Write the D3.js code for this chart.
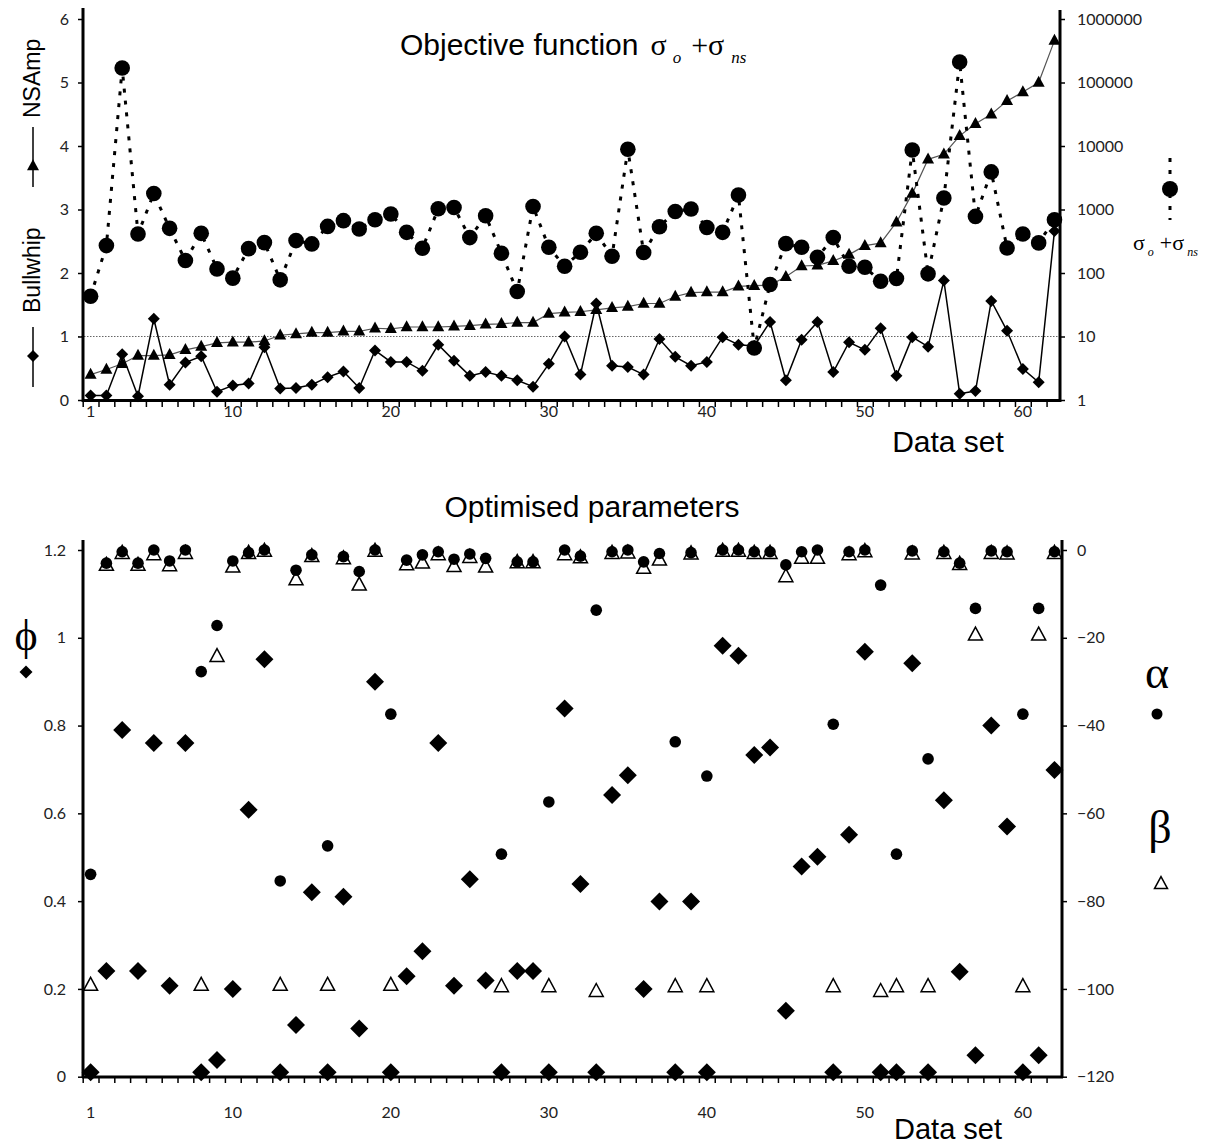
<!DOCTYPE html>
<html><head><meta charset="utf-8">
<script src="https://cdn.jsdelivr.net/npm/d3@7"></script>
<style>body{margin:0;background:#fff} svg{display:block}</style>
</head><body><svg id="c" width="1215" height="1146"></svg>
<script>
// ---------- data ----------
const dataSets = [1,2,3,4,5,6,7,8,9,10,11,12,13,14,15,16,17,18,19,20,21,22,23,24,25,26,27,28,29,30,31,32,33,34,35,36,37,38,39,40,41,42,43,44,45,46,47,48,49,50,51,52,53,54,55,56,57,58,59,60,61,62];
const bullwhip = [0.07,0.07,0.72,0.06,1.28,0.24,0.59,0.69,0.13,0.23,0.26,0.83,0.18,0.19,0.24,0.36,0.45,0.19,0.78,0.60,0.60,0.46,0.87,0.62,0.38,0.44,0.38,0.31,0.21,0.57,1.00,0.40,1.52,0.54,0.52,0.40,0.96,0.68,0.54,0.60,0.99,0.87,0.85,1.23,0.31,0.95,1.23,0.44,0.91,0.79,1.13,0.38,0.99,0.84,1.88,0.10,0.14,1.56,1.09,0.49,0.28,2.66];
const nsAmp = [0.40,0.48,0.57,0.70,0.70,0.71,0.79,0.84,0.90,0.91,0.91,0.93,1.02,1.04,1.06,1.06,1.08,1.08,1.13,1.12,1.15,1.15,1.15,1.16,1.17,1.19,1.20,1.22,1.22,1.36,1.38,1.39,1.42,1.45,1.47,1.52,1.52,1.63,1.69,1.70,1.70,1.79,1.80,1.81,1.94,2.11,2.12,2.19,2.29,2.43,2.47,2.80,3.25,3.79,3.87,4.16,4.35,4.50,4.71,4.85,5.00,5.66];
const objective = [43,270,169000,412,1786,505,157,421,116,83,242,301,78,324,287,542,667,493,690,849,437,245,1028,1076,361,798,205,51,1117,254,128,212,421,184,8872,210,536,931,1016,522,437,1687,6.6,66,290,254,177,361,128,123,74,82,8650,97,1514,210000,778,3908,248,412,298,690];
const phi = [0.01,0.241,0.790,0.241,0.760,0.207,0.760,0.01,0.038,0.200,0.608,0.951,0.01,0.118,0.420,0.01,0.410,0.110,0.900,0.01,0.229,0.286,0.760,0.207,0.450,0.219,0.01,0.241,0.241,0.01,0.839,0.439,0.01,0.642,0.687,0.200,0.399,0.01,0.399,0.01,0.982,0.959,0.733,0.750,0.150,0.479,0.501,0.01,0.551,0.968,0.01,0.01,0.942,0.01,0.630,0.239,0.049,0.800,0.570,0.01,0.049,0.699];
const alpha = [-73.9,-3.0,-0.4,-3.0,0,-2.5,0,-27.7,-17.2,-2.5,-0.6,0,-75.4,-4.6,-1.1,-67.4,-1.5,-4.9,0,-37.4,-2.3,-1.1,-0.4,-2.1,-0.9,-1.9,-69.3,-2.7,-2.7,-57.4,0,-1.4,-13.7,-0.4,0,-2.7,-0.8,-43.7,-0.6,-51.5,0,0,-0.4,-0.4,-3.4,-0.4,0,-39.7,-0.4,0,-8.0,-69.3,-0.2,-47.6,-0.4,-3.0,-13.3,-0.2,-0.4,-37.4,-13.3,-0.4];
const beta = [-99.2,-3.5,-0.8,-3.5,-1.1,-3.6,-0.8,-99.2,-24.3,-3.9,-0.8,-0.3,-99.2,-6.8,-1.5,-99.2,-2.0,-8.0,-0.3,-99.2,-3.4,-3.0,-1.1,-3.8,-1.7,-3.9,-99.5,-2.9,-2.9,-99.5,-1.1,-1.8,-100.6,-0.8,-0.7,-4.2,-2.3,-99.5,-0.9,-99.5,-0.3,-0.3,-0.8,-0.8,-6.1,-1.9,-1.9,-99.5,-1.1,-0.4,-100.6,-99.5,-0.9,-99.5,-0.8,-3.3,-19.4,-0.8,-0.9,-99.5,-19.4,-0.8];
const xTickLabels = [1,10,20,30,40,50,60];
const topLeftTicks = [0,1,2,3,4,5,6];
const topRightTicks = [1,10,100,1000,10000,100000,1000000];
const botLeftTicks = [0,0.2,0.4,0.6,0.8,1,1.2];
const botRightTicks = [0,-20,-40,-60,-80,-100,-120];

// ---------- scales ----------
const svg = d3.select('#c');
const x = d3.scaleLinear().domain([0.5, 62.35]).range([82.7, 1060]);
const yTL = d3.scaleLinear().domain([0,6]).range([400, 19]);
const yTR = d3.scaleLog().domain([1,1e6]).range([400, 19]);
const yBL = d3.scaleLinear().domain([0,1.2]).range([1076.7, 550]);
const yBR = d3.scaleLinear().domain([-120,0]).range([1076.7, 550]);

const SANS = "'Liberation Sans', Arial, sans-serif";
const SERIF = "'Liberation Serif', 'Times New Roman', serif";
const TICKF = "Lato, 'Open Sans', sans-serif";

const diamond = s => `M0,${-s}L${s},0L0,${s}L${-s},0Z`;
const tri = (w,h) => `M0,${-h*0.62}L${w/2},${h*0.38}L${-w/2},${h*0.38}Z`;

function styleAxis(g){
  g.select('.domain').remove();
  g.selectAll('line').attr('stroke','#000').attr('stroke-width',1.5);
  g.selectAll('text').attr('font-family',TICKF).attr('font-size',16).attr('fill','#222');
}
const boundaries = d3.range(0.5, 62.5, 1);

// ================= TOP CHART =================
const topG = svg.append('g');
topG.append('line').attr('x1',78).attr('x2',x(62.35)).attr('y1',yTL(1)).attr('y2',yTL(1))
  .attr('stroke','#666').attr('stroke-width',1).attr('stroke-dasharray','1.5,1.5');

topG.append('g').attr('transform','translate(83,0)')
  .call(d3.axisLeft(yTL).tickValues(topLeftTicks).tickSize(5).tickPadding(9).tickFormat(d3.format('d')))
  .call(styleAxis);
topG.append('g').attr('transform','translate(1060,0)')
  .call(d3.axisRight(yTR).tickValues(topRightTicks).tickSize(5).tickPadding(12).tickFormat(d3.format('d')))
  .call(styleAxis);
topG.append('g').attr('transform','translate(0,401)')
  .call(d3.axisBottom(x).tickValues(boundaries).tickSize(6).tickFormat(''))
  .call(styleAxis);
topG.selectAll('.xl').data(xTickLabels).join('text')
  .attr('x',d=>x(d)).attr('y',417).attr('text-anchor','middle')
  .attr('font-family',TICKF).attr('font-size',16).attr('fill','#222').text(d=>d);

topG.append('line').attr('x1',83).attr('x2',83).attr('y1',8).attr('y2',402).attr('stroke','#000').attr('stroke-width',3);
topG.append('line').attr('x1',1060).attr('x2',1060).attr('y1',10).attr('y2',402).attr('stroke','#000').attr('stroke-width',3);
topG.append('line').attr('x1',82).attr('x2',1061).attr('y1',400.5).attr('y2',400.5).attr('stroke','#000').attr('stroke-width',3);

topG.append('path').datum(nsAmp)
  .attr('d', d3.line().x((d,i)=>x(dataSets[i])).y(d=>yTL(d)))
  .attr('fill','none').attr('stroke','#555').attr('stroke-width',1.2);
topG.selectAll('.ns').data(nsAmp).join('path')
  .attr('transform',(d,i)=>`translate(${x(dataSets[i])},${yTL(d)})`)
  .attr('d',tri(12,11)).attr('fill','#000');

topG.append('path').datum(bullwhip)
  .attr('d', d3.line().x((d,i)=>x(dataSets[i])).y(d=>yTL(d)))
  .attr('fill','none').attr('stroke','#000').attr('stroke-width',1.5);
topG.selectAll('.bw').data(bullwhip).join('path')
  .attr('transform',(d,i)=>`translate(${x(dataSets[i])},${yTL(d)})`)
  .attr('d',diamond(6)).attr('fill','#000');

topG.append('path').datum(objective)
  .attr('d', d3.line().x((d,i)=>x(dataSets[i])).y(d=>yTR(d)))
  .attr('fill','none').attr('stroke','#000').attr('stroke-width',3).attr('stroke-dasharray','4,8');
topG.selectAll('.ob').data(objective).join('circle')
  .attr('cx',(d,i)=>x(dataSets[i])).attr('cy',d=>yTR(d)).attr('r',7.8).attr('fill','#000');

const t1 = topG.append('text').attr('x',400).attr('y',55).attr('fill','#000');
t1.append('tspan').attr('font-family',SANS).attr('font-size',30).text('Objective function');
t1.append('tspan').attr('font-family',SERIF).attr('font-size',30).attr('dx',12).text('σ');
t1.append('tspan').attr('font-family',SERIF).attr('font-style','italic').attr('font-size',17).attr('dx',6).attr('dy',8).text('o');
t1.append('tspan').attr('font-family',SERIF).attr('font-size',30).attr('dx',10).attr('dy',-8).text('+σ');
t1.append('tspan').attr('font-family',SERIF).attr('font-style','italic').attr('font-size',17).attr('dx',7).attr('dy',8).text('ns');

topG.append('text').attr('x',948).attr('y',452).attr('text-anchor','middle')
  .attr('font-family',SANS).attr('font-size',30).text('Data set');

topG.append('line').attr('x1',33).attr('x2',33).attr('y1',327).attr('y2',387).attr('stroke','#000').attr('stroke-width',1.5);
topG.append('path').attr('transform','translate(33,356)').attr('d',diamond(6)).attr('fill','#000');
topG.append('text').attr('transform','translate(40,313) rotate(-90)').attr('font-family',SANS).attr('font-size',23).text('Bullwhip');
topG.append('line').attr('x1',33).attr('x2',33).attr('y1',127).attr('y2',187).attr('stroke','#000').attr('stroke-width',1.5);
topG.append('path').attr('transform','translate(33,166)').attr('d',tri(12,11)).attr('fill','#000');
topG.append('text').attr('transform','translate(40,118) rotate(-90)').attr('font-family',SANS).attr('font-size',23).text('NSAmp');

topG.append('line').attr('x1',1170).attr('x2',1170).attr('y1',158).attr('y2',220).attr('stroke','#000').attr('stroke-width',3).attr('stroke-dasharray','4,8');
topG.append('circle').attr('cx',1170).attr('cy',189).attr('r',8).attr('fill','#000');
const t2 = topG.append('text').attr('x',1133).attr('y',250);
t2.append('tspan').attr('font-family',SERIF).attr('font-size',22).text('σ');
t2.append('tspan').attr('font-family',SERIF).attr('font-style','italic').attr('font-size',12).attr('dx',3).attr('dy',6).text('o');
t2.append('tspan').attr('font-family',SERIF).attr('font-size',22).attr('dx',6).attr('dy',-6).text('+σ');
t2.append('tspan').attr('font-family',SERIF).attr('font-style','italic').attr('font-size',12).attr('dx',3).attr('dy',6).text('ns');

// ================= BOTTOM CHART =================
const botG = svg.append('g');
botG.append('g').attr('transform','translate(83,0)')
  .call(d3.axisLeft(yBL).tickValues(botLeftTicks).tickSize(5).tickPadding(12).tickFormat(d=>String(+d.toFixed(1))))
  .call(styleAxis);
botG.append('g').attr('transform','translate(1062,0)')
  .call(d3.axisRight(yBR).tickValues(botRightTicks).tickSize(5).tickPadding(10).tickFormat(d3.format('d')))
  .call(styleAxis);
botG.append('g').attr('transform','translate(0,1077)')
  .call(d3.axisBottom(x).tickValues(boundaries).tickSize(6).tickFormat(''))
  .call(styleAxis);
botG.selectAll('.xl').data(xTickLabels).join('text')
  .attr('x',d=>x(d)).attr('y',1118).attr('text-anchor','middle')
  .attr('font-family',TICKF).attr('font-size',16).attr('fill','#222').text(d=>d);

botG.append('line').attr('x1',83).attr('x2',83).attr('y1',540).attr('y2',1078).attr('stroke','#000').attr('stroke-width',3);
botG.append('line').attr('x1',1062).attr('x2',1062).attr('y1',540).attr('y2',1078).attr('stroke','#000').attr('stroke-width',3);
botG.append('line').attr('x1',82).attr('x2',1063).attr('y1',1077).attr('y2',1077).attr('stroke','#000').attr('stroke-width',3);

botG.selectAll('.be').data(beta).join('path')
  .attr('transform',(d,i)=>`translate(${x(dataSets[i])},${yBR(d)})`)
  .attr('d',tri(14,13)).attr('fill','#fff').attr('stroke','#000').attr('stroke-width',1.5);
botG.selectAll('.ph').data(phi).join('path')
  .attr('transform',(d,i)=>`translate(${x(dataSets[i])},${yBL(d)})`)
  .attr('d',diamond(9)).attr('fill','#000');
botG.selectAll('.al').data(alpha).join('circle')
  .attr('cx',(d,i)=>x(dataSets[i])).attr('cy',d=>yBR(d)).attr('r',5.8).attr('fill','#000');

botG.append('text').attr('x',592).attr('y',517).attr('text-anchor','middle')
  .attr('font-family',SANS).attr('font-size',30).text('Optimised parameters');
botG.append('text').attr('x',948).attr('y',1139).attr('text-anchor','middle')
  .attr('font-family',SANS).attr('font-size',29).text('Data set');

botG.append('text').attr('x',26).attr('y',650).attr('text-anchor','middle')
  .attr('font-family',SERIF).attr('font-size',44).text('ϕ');
botG.append('path').attr('transform','translate(26,672)').attr('d',diamond(6.5)).attr('fill','#000');
botG.append('text').attr('x',1157).attr('y',688).attr('text-anchor','middle')
  .attr('font-family',SERIF).attr('font-size',46).text('α');
botG.append('circle').attr('cx',1157).attr('cy',714).attr('r',5.5).attr('fill','#000');
botG.append('text').attr('x',1160).attr('y',843).attr('text-anchor','middle')
  .attr('font-family',SERIF).attr('font-size',46).text('β');
botG.append('path').attr('transform','translate(1161,884)').attr('d',tri(13,12)).attr('fill','#fff').attr('stroke','#000').attr('stroke-width',1.5);
</script></body></html>
